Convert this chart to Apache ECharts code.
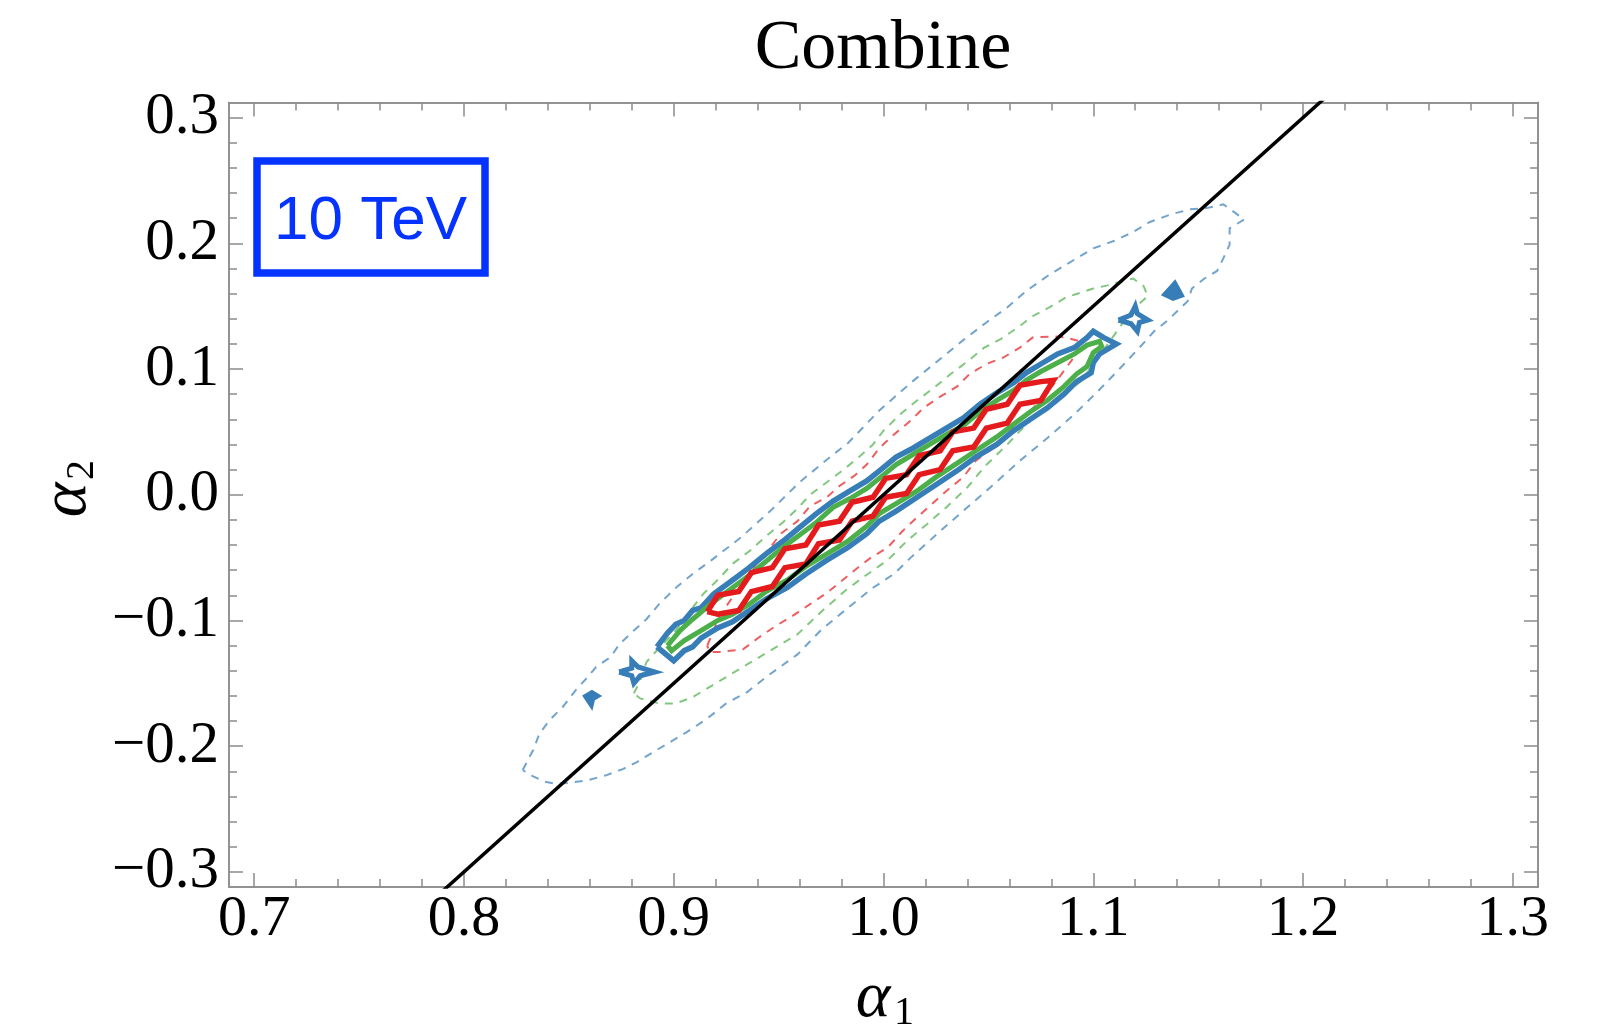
<!DOCTYPE html>
<html>
<head>
<meta charset="utf-8">
<script src="https://cdn.jsdelivr.net/npm/echarts@6/dist/echarts.min.js"></script>
<style>
  html, body { margin: 0; padding: 0; background: #fff; }
  #chart { width: 1608px; height: 1029px; }
</style>
</head>
<body>
<div id="chart"></div>
<script>
// axis limits and ticks
const xRange = [0.688, 1.312];
const yRange = [-0.312, 0.312];
const xMajor = [0.7, 0.8, 0.9, 1.0, 1.1, 1.2, 1.3];
const xMinor = [0.72, 0.74, 0.76, 0.78, 0.82, 0.84, 0.86, 0.88, 0.92, 0.94, 0.96, 0.98,
  1.02, 1.04, 1.06, 1.08, 1.12, 1.14, 1.16, 1.18, 1.22, 1.24, 1.26, 1.28];
const yMajor = [-0.3, -0.2, -0.1, 0, 0.1, 0.2, 0.3];
const yMinor = [-0.28, -0.26, -0.24, -0.22, -0.18, -0.16, -0.14, -0.12, -0.08, -0.06, -0.04, -0.02,
  0.02, 0.04, 0.06, 0.08, 0.12, 0.14, 0.16, 0.18, 0.22, 0.24, 0.26, 0.28];

// black reference line
const diagLine = [[0.78, -0.33], [1.22, 0.33]];

// dashed (outer) contours
const blueDashed = [
  [0.828,-0.219],[0.833,-0.203],[0.836,-0.190],[0.841,-0.179],[0.847,-0.169],[0.853,-0.156],[0.859,-0.145],
  [0.863,-0.137],[0.870,-0.129],[0.874,-0.119],[0.881,-0.108],[0.887,-0.099],[0.893,-0.087],[0.901,-0.074],
  [0.909,-0.063],[0.918,-0.052],[0.932,-0.034],[0.946,-0.013],[0.960,0.010],[0.976,0.032],[0.983,0.041],
  [0.998,0.067],[1.013,0.089],[1.027,0.108],[1.038,0.123],[1.049,0.137],[1.059,0.149],[1.068,0.162],
  [1.079,0.175],[1.091,0.187],[1.100,0.196],[1.110,0.202],[1.119,0.209],[1.127,0.217],[1.137,0.223],
  [1.146,0.227],[1.154,0.228],[1.162,0.231],[1.167,0.225],[1.172,0.219],
  [1.165,0.212],[1.165,0.199],[1.162,0.188],[1.159,0.178],[1.153,0.172],[1.147,0.164],[1.145,0.154],
  [1.140,0.146],[1.135,0.138],[1.129,0.130],[1.122,0.117],[1.113,0.101],[1.102,0.082],[1.091,0.064],
  [1.078,0.045],[1.065,0.027],[1.051,0.006],[1.040,-0.010],[1.027,-0.029],[1.013,-0.050],[1.005,-0.063],
  [0.995,-0.074],[0.983,-0.090],[0.970,-0.108],[0.959,-0.127],[0.944,-0.145],[0.935,-0.157],[0.925,-0.166],
  [0.916,-0.178],[0.906,-0.189],[0.898,-0.197],[0.890,-0.205],[0.882,-0.213],[0.876,-0.218],[0.868,-0.223],
  [0.859,-0.227],[0.851,-0.229],[0.844,-0.230],[0.838,-0.228],[0.833,-0.224]
];
const greenDashed = [
  [0.881,-0.158],[0.884,-0.148],[0.887,-0.133],[0.893,-0.122],[0.901,-0.108],[0.908,-0.092],[0.914,-0.079],
  [0.922,-0.066],[0.928,-0.055],[0.936,-0.045],[0.944,-0.033],[0.952,-0.022],[0.959,-0.011],[0.965,0.000],
  [0.973,0.010],[0.981,0.020],[0.989,0.031],[0.995,0.040],[1.000,0.051],[1.008,0.064],[1.016,0.075],
  [1.024,0.085],[1.032,0.096],[1.040,0.106],[1.048,0.117],[1.056,0.124],[1.064,0.133],[1.071,0.142],
  [1.079,0.149],[1.087,0.157],[1.100,0.164],[1.108,0.167],[1.119,0.172],[1.124,0.166],[1.126,0.158],
  [1.118,0.146],[1.110,0.127],[1.101,0.106],[1.094,0.090],[1.086,0.080],[1.078,0.069],[1.068,0.056],
  [1.059,0.040],[1.048,0.022],[1.040,0.006],[1.030,-0.010],[1.021,-0.023],[1.011,-0.037],[1.002,-0.052],
  [0.990,-0.066],[0.982,-0.076],[0.971,-0.092],[0.959,-0.111],[0.949,-0.121],[0.936,-0.134],[0.925,-0.145],
  [0.917,-0.153],[0.909,-0.161],[0.901,-0.166],[0.893,-0.166],[0.884,-0.162]
];
const redDashed = [
  [0.916,-0.120],[0.922,-0.096],[0.932,-0.072],[0.939,-0.056],[0.946,-0.042],[0.951,-0.031],[0.959,-0.021],
  [0.965,-0.009],[0.973,-0.002],[0.979,0.007],[0.986,0.015],[0.992,0.024],[0.998,0.037],[1.005,0.048],
  [1.013,0.059],[1.019,0.069],[1.027,0.078],[1.035,0.086],[1.041,0.096],[1.049,0.104],[1.057,0.109],
  [1.065,0.117],[1.071,0.125],[1.081,0.126],[1.087,0.125],[1.094,0.122],[1.091,0.110],[1.084,0.094],
  [1.075,0.075],[1.065,0.059],[1.059,0.048],[1.052,0.037],[1.044,0.027],[1.038,0.014],[1.030,0.003],
  [1.024,-0.006],[1.016,-0.018],[1.009,-0.029],[1.002,-0.042],[0.994,-0.050],[0.987,-0.059],[0.979,-0.070],
  [0.973,-0.078],[0.965,-0.087],[0.957,-0.096],[0.949,-0.104],[0.941,-0.113],[0.933,-0.123],[0.922,-0.125],
  [0.917,-0.125]
];

// solid (inner) contours
const blueSolid = [
  [0.892,-0.121],[0.897,-0.110],[0.901,-0.103],[0.905,-0.100],[0.909,-0.092],[0.913,-0.090],[0.919,-0.079],
  [0.928,-0.068],[0.936,-0.058],[0.944,-0.047],[0.952,-0.037],[0.960,-0.026],[0.968,-0.015],[0.976,-0.005],
  [0.984,0.003],[0.992,0.011],[0.998,0.019],[1.006,0.030],[1.014,0.037],[1.022,0.045],[1.030,0.053],
  [1.038,0.061],[1.046,0.072],[1.054,0.081],[1.062,0.089],[1.068,0.097],[1.075,0.104],[1.083,0.112],
  [1.091,0.117],[1.097,0.125],[1.100,0.130],[1.105,0.125],[1.111,0.120],[1.107,0.116],[1.103,0.112],
  [1.100,0.105],[1.099,0.097],[1.092,0.090],[1.086,0.080],[1.078,0.069],[1.070,0.060],[1.062,0.051],
  [1.054,0.040],[1.044,0.030],[1.035,0.019],[1.025,0.008],[1.016,-0.002],[1.006,-0.013],[0.998,-0.021],
  [0.992,-0.031],[0.983,-0.042],[0.973,-0.052],[0.963,-0.063],[0.954,-0.074],[0.944,-0.083],[0.936,-0.092],
  [0.928,-0.101],[0.921,-0.106],[0.913,-0.114],[0.909,-0.121],[0.905,-0.124],[0.900,-0.132]
];
const greenSolid = [
  [0.897,-0.120],[0.903,-0.108],[0.909,-0.099],[0.919,-0.085],[0.928,-0.074],[0.936,-0.064],[0.944,-0.053],
  [0.952,-0.042],[0.960,-0.032],[0.968,-0.022],[0.976,-0.010],[0.984,-0.003],[0.992,0.005],[0.998,0.013],
  [1.006,0.024],[1.014,0.032],[1.022,0.040],[1.030,0.048],[1.038,0.055],[1.046,0.066],[1.054,0.075],
  [1.062,0.083],[1.068,0.091],[1.075,0.098],[1.083,0.105],[1.091,0.112],[1.097,0.119],[1.103,0.122],
  [1.104,0.118],[1.100,0.113],[1.097,0.102],[1.092,0.096],[1.086,0.086],[1.078,0.075],[1.070,0.066],
  [1.062,0.056],[1.054,0.046],[1.044,0.035],[1.035,0.025],[1.025,0.014],[1.016,0.003],[1.006,-0.007],
  [0.998,-0.015],[0.992,-0.025],[0.983,-0.037],[0.973,-0.047],[0.963,-0.057],[0.954,-0.068],[0.944,-0.077],
  [0.936,-0.087],[0.928,-0.095],[0.921,-0.100],[0.913,-0.108],[0.905,-0.116],[0.899,-0.124]
];
const redSolid = [
  [0.916,-0.093],
  [0.921,-0.080],[0.931,-0.077],[0.937,-0.062],[0.947,-0.058],[0.953,-0.043],[0.963,-0.040],[0.969,-0.024],
  [0.979,-0.021],[0.985,-0.006],[0.995,-0.002],[1.001,0.013],[1.011,0.016],[1.017,0.031],[1.027,0.035],
  [1.033,0.050],[1.043,0.053],[1.049,0.068],[1.059,0.072],[1.065,0.087],[1.075,0.090],
  [1.081,0.091],
  [1.075,0.075],[1.065,0.072],[1.059,0.057],[1.049,0.053],[1.043,0.038],[1.033,0.035],[1.027,0.020],
  [1.017,0.016],[1.011,0.001],[1.001,-0.002],[0.995,-0.017],[0.985,-0.021],[0.979,-0.036],[0.969,-0.039],
  [0.963,-0.055],[0.953,-0.058],[0.947,-0.073],[0.937,-0.077],[0.931,-0.092],[0.921,-0.095]
];

// small detached blue pieces
const blueStarLow = [[0.874,-0.141],[0.880,-0.138],[0.880,-0.132],[0.883,-0.137],[0.891,-0.141],[0.884,-0.144],[0.881,-0.150],[0.880,-0.144]];
const blueStarHigh = [[1.112,0.139],[1.118,0.143],[1.120,0.150],[1.121,0.144],[1.126,0.139],[1.122,0.137],[1.121,0.130],[1.118,0.136]];
const blueBlobLow = [[0.857,-0.160],[0.861,-0.156],[0.865,-0.160],[0.862,-0.163],[0.861,-0.170]];
const blueBlobHigh = [[1.133,0.159],[1.139,0.170],[1.141,0.164],[1.143,0.158],[1.138,0.155]];

const BLUE = '#377eb8', GREEN = '#4daf4a', RED = '#e41a1c';
const FRAME = '#8c8c8c';

const chart = echarts.init(document.getElementById('chart'));

function contour(pts, color, width, dashed, z) {
  return {
    type: 'line',
    data: pts.concat([pts[0]]),
    symbol: 'none',
    silent: true,
    z: z,
    lineStyle: {
      color: color,
      width: width,
      type: dashed ? [8, 7] : 'solid',
      opacity: dashed ? 0.7 : 1,
      join: 'miter'
    }
  };
}

function blob(pts, color) {
  return {
    type: 'custom',
    data: [[1, 0]],
    silent: true,
    z: 4,
    renderItem: (params, api) => ({
      type: 'polygon',
      shape: { points: pts.map((p) => api.coord(p)) },
      style: { fill: color, stroke: color, lineWidth: 2 }
    })
  };
}

const tickFmt = (v) => (v < 0 ? '\u2212' : '') + Math.abs(v).toFixed(1);

function axis(dim, position, ticks, len, label) {
  const range = dim === 'x' ? xRange : yRange;
  return {
    type: 'value',
    position: position,
    min: range[0],
    max: range[1],
    axisLine: { show: true, onZero: false, lineStyle: { color: FRAME, width: 1.5 } },
    axisTick: { show: true, inside: true, length: len, customValues: ticks, lineStyle: { color: FRAME, width: 1.5 } },
    axisLabel: label
      ? {
          show: true,
          customValues: ticks,
          formatter: tickFmt,
          fontFamily: 'Liberation Serif',
          fontSize: dim === 'x' ? 58 : 59,
          color: '#000',
          margin: dim === 'x' ? 4 : 10
        }
      : { show: false },
    splitLine: { show: false }
  };
}

const option = {
  animation: false,
  backgroundColor: '#fff',
  grid: { left: 229, right: 70, top: 102.5, bottom: 142, containLabel: false },
  xAxis: [
    axis('x', 'bottom', xMajor, 14, true),
    axis('x', 'bottom', xMinor, 8, false),
    axis('x', 'top', xMajor, 14, false),
    axis('x', 'top', xMinor, 8, false)
  ],
  yAxis: [
    axis('y', 'left', yMajor, 14, true),
    axis('y', 'left', yMinor, 8, false),
    axis('y', 'right', yMajor, 14, false),
    axis('y', 'right', yMinor, 8, false)
  ],
  series: [
    contour(blueDashed, BLUE, 2, true, 2),
    contour(greenDashed, GREEN, 2, true, 2),
    contour(redDashed, RED, 2, true, 2),
    contour(blueSolid, BLUE, 5.5, false, 3),
    contour(greenSolid, GREEN, 5, false, 3),
    contour(redSolid, RED, 5.5, false, 3),
    contour(blueStarLow, BLUE, 5, false, 3),
    contour(blueStarHigh, BLUE, 5, false, 3),
    blob(blueBlobLow, BLUE),
    blob(blueBlobHigh, BLUE),
    {
      type: 'line',
      data: diagLine,
      symbol: 'none',
      silent: true,
      z: 5,
      lineStyle: { color: '#000', width: 3.5 }
    }
  ],
  graphic: [
    {
      type: 'text', x: 883, y: 50,
      style: { text: 'Combine', font: '70px "Liberation Serif"', fill: '#000', align: 'center', verticalAlign: 'middle' }
    },
    {
      type: 'rect',
      shape: { x: 257, y: 161, width: 228, height: 112 },
      style: { fill: 'none', stroke: '#0433ff', lineWidth: 7.5 }
    },
    {
      type: 'text', x: 370.5, y: 222,
      style: { text: '10 TeV', font: '62px "Liberation Sans"', fill: '#0433ff', align: 'center', verticalAlign: 'middle' }
    },
    {
      type: 'text', x: 873, y: 999,
      style: { text: 'α', font: 'italic 66px "Liberation Serif"', fill: '#000', align: 'center', verticalAlign: 'middle' }
    },
    {
      type: 'text', x: 894, y: 1013,
      style: { text: '1', font: '40px "Liberation Serif"', fill: '#000', align: 'left', verticalAlign: 'middle' }
    },
    {
      type: 'group', x: 68, y: 490, rotation: Math.PI / 2,
      children: [
        {
          type: 'text', x: -10, y: 0,
          style: { text: 'α', font: 'italic 66px "Liberation Serif"', fill: '#000', align: 'center', verticalAlign: 'middle' }
        },
        {
          type: 'text', x: 10, y: 14,
          style: { text: '2', font: '40px "Liberation Serif"', fill: '#000', align: 'left', verticalAlign: 'middle' }
        }
      ]
    }
  ]
};

chart.setOption(option);
window.addEventListener('resize', () => chart.resize());
</script>
</body>
</html>
